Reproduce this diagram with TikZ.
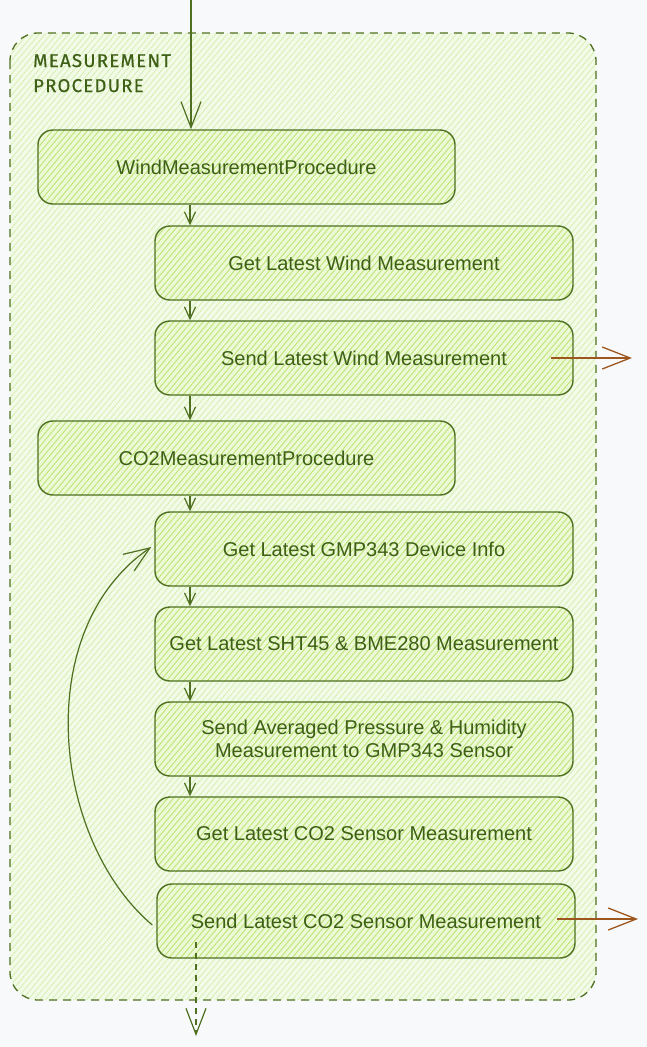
\documentclass[tikz,border=0pt]{standalone}
\usepackage{fontspec}
\setmainfont{Liberation Sans}
\newfontfamily\titlefont{Fira Sans}[LetterSpace=7,FakeBold=0.6]
\usetikzlibrary{arrows.meta,patterns.meta,calc}
\definecolor{pagebg}{RGB}{248,249,250}
\definecolor{strk}{RGB}{78,112,32}
\definecolor{txt}{RGB}{62,96,22}
\definecolor{boxbase}{RGB}{236,248,214}
\definecolor{boxhatch}{RGB}{184,228,108}
\definecolor{contbase}{RGB}{242,250,232}
\definecolor{conthatch}{RGB}{212,238,172}
\definecolor{orng}{RGB}{156,86,30}
\tikzset{
  stepbox/.style={draw=strk, line width=1.4pt, rounded corners=15pt,
    preaction={fill=boxbase},
    preaction={pattern={Lines[angle=50,distance=4.5pt,line width=0.8pt]}, pattern color=boxhatch},
    text=txt, font=\fontsize{20}{23}\selectfont, align=center,
    minimum width=418pt, minimum height=74pt, inner sep=0pt},
  widebox/.style={stepbox, minimum width=417pt},
  conn/.style={draw=strk, line width=1.2pt},
  smallarr/.style={conn, -{Straight Barb[length=12pt,width=11pt]}},
  bigarr/.style={conn, -{Straight Barb[length=26pt,width=20pt]}},
  orangearr/.style={draw=orng, line width=1.3pt, -{Straight Barb[length=28pt,width=22pt]}},
  container/.style={draw=strk, line width=1.3pt, dash pattern=on 8pt off 6pt, rounded corners=28pt,
    preaction={fill=contbase},
    preaction={pattern={Lines[angle=50,distance=4.5pt,line width=0.7pt]}, pattern color=conthatch}},
  titletext/.style={text=txt, font=\titlefont\fontsize{18.5}{25}\selectfont, inner sep=0pt, anchor=base west}
}
\begin{document}
\begin{tikzpicture}[x=1pt,y=-1pt]
\useasboundingbox[fill=pagebg] (0,0) rectangle (647,1047);
\path[container] (10,33) rectangle (596,1000);
\node[titletext] (title1) at (33,67) {MEASUREMENT};
\node[titletext] (title2) at (33,92) {PROCEDURE};

\node[widebox] (b1) at (246.5,167) {WindMeasurementProcedure};
\node[stepbox] (b2) at (364,263) {Get Latest Wind Measurement};
\node[stepbox] (b3) at (364,358) {Send Latest Wind Measurement};
\node[widebox] (b4) at (246.5,458) {CO2MeasurementProcedure};
\node[stepbox] (b5) at (364,549) {Get Latest GMP343 Device Info};
\node[stepbox] (b6) at (364,644) {Get Latest SHT45 \& BME280 Measurement};
\node[stepbox] (b7) at (364,739) {Send Averaged Pressure \& Humidity\\Measurement to GMP343 Sensor};
\node[stepbox] (b8) at (364,834) {Get Latest CO2 Sensor Measurement};
\node[stepbox] (b9) at (366,921) {Send Latest CO2 Sensor Measurement};

\coordinate (top) at (191,0);
\coordinate (ax) at (190,0);
\coordinate (o1) at (632,358);
\coordinate (o2) at (638,919);
\coordinate (d1) at (196,942);
\coordinate (d2) at (196,1036);

\draw[bigarr] (top) -- (b1.north -| top);
\draw[smallarr] (b1.south -| ax) -- (b2.north -| ax);
\draw[smallarr] (b2.south -| ax) -- (b3.north -| ax);
\draw[smallarr] (b3.south -| ax) -- (b4.north -| ax);
\draw[smallarr] (b4.south -| ax) -- (b5.north -| ax);
\draw[smallarr] (b5.south -| ax) -- (b6.north -| ax);
\draw[smallarr] (b6.south -| ax) -- (b7.north -| ax);
\draw[smallarr] (b7.south -| ax) -- (b8.north -| ax);

\draw[orangearr] ($(b3.east)+(-23,0)$) -- (o1);
\draw[orangearr] ($(b9.east)+(-19,-2)$) -- (o2);

\draw[bigarr] ($(b9.west)+(-4,4)$) .. controls (52,840) and (30,630) .. ($(b5.west)+(-3,-2)$);

\draw[bigarr, dash pattern=on 6pt off 5pt] (d1) -- (d2);
\end{tikzpicture}
\end{document}
